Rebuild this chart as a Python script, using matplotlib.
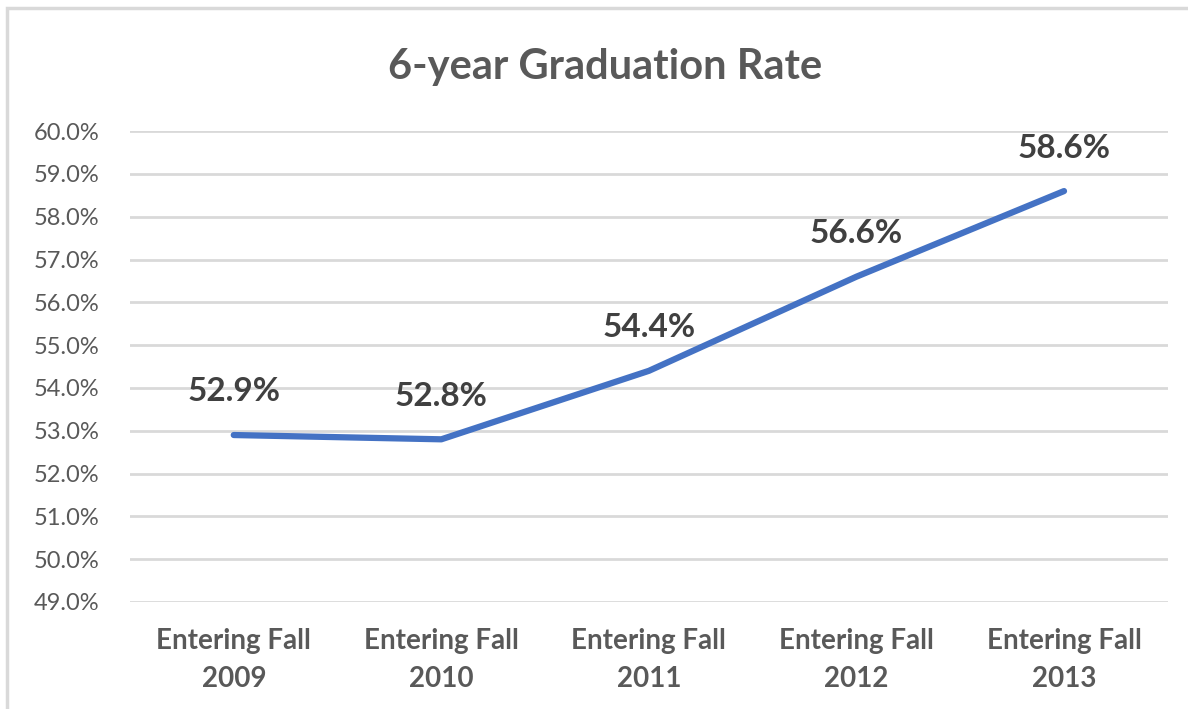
import matplotlib.pyplot as plt
from matplotlib.patches import Rectangle
from matplotlib.ticker import FuncFormatter

categories = ['Entering Fall\n2009', 'Entering Fall\n2010', 'Entering Fall\n2011',
              'Entering Fall\n2012', 'Entering Fall\n2013']
rates = [52.9, 52.8, 54.4, 56.6, 58.6]
y_ticks = [49, 50, 51, 52, 53, 54, 55, 56, 57, 58, 59, 60]

plt.rcParams['font.family'] = ['Lato', 'DejaVu Sans']
gray = '#595959'

fig = plt.figure(figsize=(11.88, 7.09), dpi=100)
ax = fig.add_axes([0.1094, 0.151, 0.8736, 0.664])

# chart border (only top and left edges are in frame)
fig.patches.append(Rectangle((7 / 1188, -0.05), 1.2, (701 / 709) + 0.05,
                             transform=fig.transFigure, fill=False,
                             edgecolor='#d9d9d9', linewidth=2.5))

x = range(len(categories))
ax.plot(x, rates, color='#4472C4', linewidth=4.5, solid_capstyle='round')
for i, v in zip(x, rates):
    ax.annotate(f'{v:.1f}%', (i, v), xytext=(0, 31), textcoords='offset points',
                ha='center', va='center', fontsize=24, fontweight='bold', color='#404040')

ax.set_xlim(-0.5, len(categories) - 0.5)
ax.set_ylim(49, 60)
ax.set_yticks(y_ticks)
ax.yaxis.set_major_formatter(FuncFormatter(lambda v, p: f'{v:.1f}%'))
ax.set_xticks(list(x))
ax.set_xticklabels(categories, fontsize=20, fontweight='bold', color=gray, linespacing=1.55)
ax.tick_params(axis='y', labelsize=17, labelcolor=gray, length=0, pad=22)
ax.tick_params(axis='x', length=0, pad=19)
ax.grid(axis='y', color='#d9d9d9', linewidth=2)
ax.set_axisbelow(True)
for s in ax.spines.values():
    s.set_visible(False)

fig.text(0.509, 0.906, '6-year Graduation Rate', ha='center', va='center',
         fontsize=30, fontweight='bold', color=gray)

fig.savefig('out.png', dpi=100)
